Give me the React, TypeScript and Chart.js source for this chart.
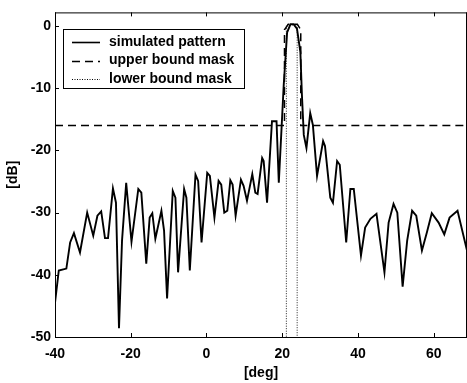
import React, { useEffect, useRef } from "react";
import { Chart, registerables } from "chart.js";

Chart.register(...registerables);

const patternDeg: number[] = [
  -40, -39, -37, -36, -35, -33.4, -31.5, -29.9, -28.8, -27.8, -26.8, -26, -24.7, -23.9, -23.1, -22.3,
  -21.2, -19.8, -18, -17.2, -15.9, -15, -14.3, -13.5, -11.9, -11.2, -10.4, -8.9, -8.2, -7.5, -5.9, -5.3,
  -4.4, -2.9, -2.2, -1.3, 0.2, 0.9, 2.1, 3.2, 3.9, 4.7, 5.5, 6.3, 6.9, 7.7, 9.1, 9.8, 10.7, 12.1, 12.9,
  13.5, 14.7, 15.1, 16, 17.3, 18.5, 19.1, 20.4, 21.3, 22.2, 23, 23.9, 24.8, 25.2, 25.7, 26.4, 27.4, 28.1,
  29.2, 30.8, 31.3, 32.7, 33.4, 34.5, 35.2, 36.9, 38, 38.9, 40.8, 41.9, 43.3, 44.9, 47, 48.1, 49.4, 50.4,
  51.8, 53, 54.3, 55.4, 56.9, 58.2, 59.5, 61.3, 62.8, 64.2, 66.3, 68.8,
];
const patternDb: number[] = [
  -44.5, -39.3, -39, -34.8, -33.3, -36.4, -30, -33.7, -30.5, -29.8, -34.1, -34.1, -26.1, -28.4, -48.6, -34.5,
  -25.2, -34.7, -26.2, -26.8, -38.2, -30.8, -30.1, -34.2, -29.7, -32.9, -43.8, -26.5, -27.6, -39.6, -26.2, -27.6,
  -39.3, -23.9, -24.9, -34.8, -23.6, -24.1, -30.8, -24.9, -25.5, -30, -29.7, -24.8, -25.5, -30.5, -24.7, -25.7,
  -28.1, -23.8, -26.8, -27, -21.2, -21.7, -28.4, -15.3, -15.3, -25.2, -9.5, -1, 0.3, 0.3, -0.4, -4.2, -11,
  -17.5, -19.6, -14, -15.9, -24.1, -18.5, -19.3, -27.6, -28.4, -21.7, -22.3, -34.8, -26.2, -26.2, -36.9, -32.4,
  -31, -30.2, -39.6, -31.6, -28.6, -30, -41.9, -34.5, -29.7, -30.5, -36.1, -33.2, -30.1, -31.6, -33.5, -30.8,
  -29.7, -36.1,
];

const upperDeg: number[] = [-40, 20.6, 20.6, 21.6, 24.0, 24.9, 24.9, 68.8];
const upperDb: number[] = [-16, -16, -0.6, 0.3, 0.3, -0.6, -16, -16];

const lowerDeg: number[] = [21.1, 21.1, 23.95, 23.95];
const lowerDb: number[] = [-60, 0.2, 0.2, -60];

const xTicks: number[] = [-40, -20, 0, 20, 40, 60];
const yTicks: number[] = [-50, -40, -30, -20, -10, 0];

const legendLabels: string[] = ["simulated pattern", "upper bound mask", "lower bound mask"];

const X_MIN = -40;
const X_MAX = 68.8;
const Y_MIN = -50;
const Y_MAX = 2.2;

const FONT = "Arial, 'Liberation Sans', Helvetica, sans-serif";

const toPts = (xs: number[], ys: number[]) => xs.map((x, i) => ({ x, y: ys[i] }));

const dashes: number[][] = [[], [8, 5], [1, 1.5]];

const framePlugin = {
  id: "frameTicks",
  afterDatasetsDraw(chart: any) {
    const { ctx, chartArea } = chart;
    const { left, right, top, bottom } = chartArea;
    const xs = chart.scales.x;
    const ys = chart.scales.y;
    ctx.save();
    ctx.strokeStyle = "#000";
    ctx.lineWidth = 1;
    ctx.setLineDash([]);
    ctx.beginPath();
    ctx.moveTo(left + 0.5, top + 0.5);
    ctx.lineTo(right, top + 0.5);
    ctx.moveTo(left + 0.5, top);
    ctx.lineTo(left + 0.5, bottom + 0.5);
    ctx.lineTo(right, bottom + 0.5);
    ctx.moveTo(right - 0.5, top);
    ctx.lineTo(right - 0.5, bottom);
    ctx.stroke();
    const tl = 4;
    ctx.beginPath();
    xTicks.forEach((v) => {
      const px = Math.round(xs.getPixelForValue(v)) + 0.5;
      ctx.moveTo(px, bottom);
      ctx.lineTo(px, bottom - tl);
      ctx.moveTo(px, top);
      ctx.lineTo(px, top + tl);
    });
    yTicks.forEach((v) => {
      const py = Math.round(ys.getPixelForValue(v)) + 0.5;
      ctx.moveTo(left, py);
      ctx.lineTo(left + tl, py);
    });
    ctx.stroke();

    const bx = 63, by = 29, bw = 181, bh = 59;
    ctx.fillStyle = "#fff";
    ctx.fillRect(bx, by, bw, bh);
    ctx.strokeRect(bx + 0.5, by + 0.5, bw, bh);
    ctx.font = `bold 14px ${FONT}`;
    ctx.textBaseline = "middle";
    ctx.textAlign = "left";
    legendLabels.forEach((lab, i) => {
      const yy = by + 13 + i * 18.5;
      ctx.beginPath();
      ctx.setLineDash(dashes[i]);
      ctx.lineWidth = i === 2 ? 1 : 1.6;
      ctx.moveTo(72, Math.round(yy) + 0.5);
      ctx.lineTo(100, Math.round(yy) + 0.5);
      ctx.stroke();
      ctx.setLineDash([]);
      ctx.fillStyle = "#000";
      ctx.fillText(lab, 109, yy);
    });
    ctx.restore();
  },
};

export default function App() {
  const ref = useRef<HTMLCanvasElement | null>(null);

  useEffect(() => {
    document.body.style.margin = "0";
    const canvas = ref.current;
    if (!canvas) return;
    const chart = new Chart(canvas, {
      type: "line",
      data: {
        datasets: [
          {
            label: legendLabels[0],
            data: toPts(patternDeg, patternDb),
            borderColor: "#000",
            borderWidth: 1.9,
            pointRadius: 0,
            tension: 0,
          },
          {
            label: legendLabels[1],
            data: toPts(upperDeg, upperDb),
            borderColor: "#000",
            borderWidth: 1.5,
            borderDash: [8, 5],
            pointRadius: 0,
            tension: 0,
          },
          {
            label: legendLabels[2],
            data: toPts(lowerDeg, lowerDb),
            borderColor: "#222",
            borderWidth: 1,
            borderDash: [1, 1.5],
            pointRadius: 0,
            tension: 0,
          },
        ],
      },
      options: {
        responsive: false,
        animation: false,
        layout: { padding: { top: 10, right: 0, left: 0, bottom: 0 } },
        plugins: { legend: { display: false }, tooltip: { enabled: false } },
        scales: {
          x: {
            type: "linear",
            min: X_MIN,
            max: X_MAX,
            grid: { display: false, drawTicks: false },
            border: { display: false },
            afterBuildTicks: (s: any) => {
              s.ticks = xTicks.map((v) => ({ value: v }));
            },
            afterFit: (s: any) => {
              s.height = 46;
            },
            ticks: {
              padding: 9,
              color: "#000",
              maxRotation: 0,
              autoSkip: false,
              font: { family: FONT, size: 14, weight: "bold" },
            },
            title: {
              display: true,
              text: "[deg]",
              color: "#000",
              font: { family: FONT, size: 14, weight: "bold" },
              padding: { top: 0, bottom: 1.5 },
            },
          },
          y: {
            type: "linear",
            min: Y_MIN,
            max: Y_MAX,
            grid: { display: false, drawTicks: false },
            border: { display: false },
            afterBuildTicks: (s: any) => {
              s.ticks = yTicks.map((v) => ({ value: v }));
            },
            afterFit: (s: any) => {
              s.width = 55;
            },
            ticks: {
              padding: 4,
              color: "#000",
              autoSkip: false,
              font: { family: FONT, size: 14, weight: "bold" },
            },
            title: {
              display: true,
              text: "[dB]",
              color: "#000",
              font: { family: FONT, size: 14, weight: "bold" },
              padding: { top: 4.5, bottom: 0 },
            },
          },
        },
      },
      plugins: [framePlugin],
    });
    return () => chart.destroy();
  }, []);

  return (
    <div style={{ position: "absolute", left: 0, top: 0, width: 467, height: 383, background: "#fff" }}>
      <canvas ref={ref} width={467} height={383} />
    </div>
  );
}
